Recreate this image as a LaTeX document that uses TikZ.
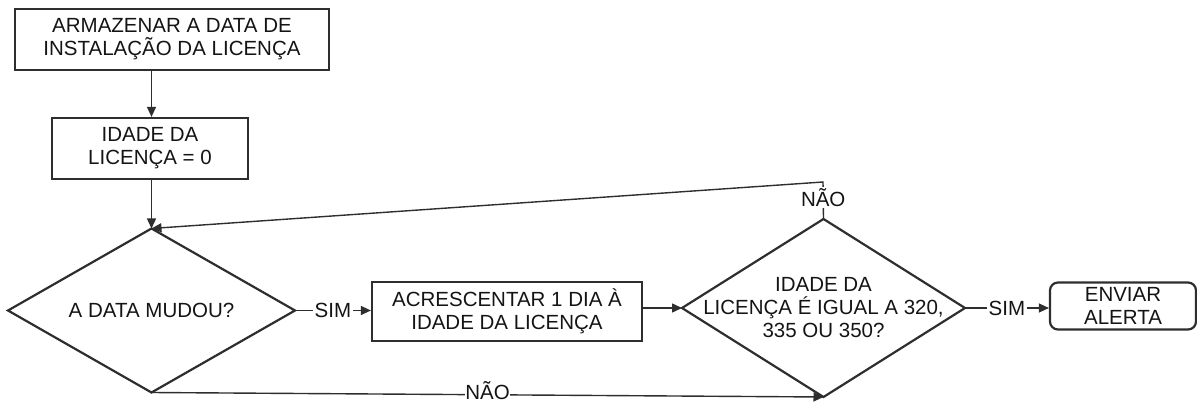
\documentclass[tikz,border=0pt]{standalone}
\usepackage{fontspec}
\setmainfont{Liberation Sans}
\usetikzlibrary{shapes.geometric,arrows.meta}
\definecolor{ln}{HTML}{2E2E2E}
\definecolor{tx}{HTML}{141414}
\tikzset{
  box/.style={draw=ln, line width=2.2pt, align=center, inner sep=0pt, text=tx,
    font=\fontsize{20.5}{23}\selectfont},
  dia/.style={diamond, draw=ln, line width=2.2pt, inner sep=0pt, outer sep=0pt},
  lbl/.style={align=center, text=tx, font=\fontsize{20.5}{23}\selectfont, inner sep=0pt},
  edge/.style={draw=ln, line width=1.4pt, -{Triangle[length=10pt,width=9pt]}},
  elab/.style={fill=white, text=tx, inner sep=1.5pt, font=\fontsize{20.5}{23}\selectfont}
}
\begin{document}
\begin{tikzpicture}[x=1pt,y=-1pt]
\useasboundingbox (0,0) rectangle (1197,403);
\node[box, minimum width=314pt, minimum height=61pt] (b1) at (172,39.5)
  {ARMAZENAR A DATA DE\\INSTALAÇÃO DA LICENÇA};
\node[box, minimum width=196pt, minimum height=61pt] (b2) at (150,148.5)
  {IDADE DA\\LICENÇA = 0};
\node[dia, minimum width=287pt, minimum height=164pt] (d1) at (151.5,310.5) {};
\node[lbl] (t1) at (d1.center) {A DATA MUDOU?};
\node[box, minimum width=270pt, minimum height=59pt] (b3) at (507,311.5)
  {ACRESCENTAR 1 DIA À\\IDADE DA LICENÇA};
\node[dia, minimum width=283pt, minimum height=178pt] (d2) at (823.5,308) {};
\node[lbl] (t2) at (d2.center) {IDADE DA\\LICENÇA É IGUAL A 320,\\335 OU 350?};
\node[box, rounded corners=8pt, minimum width=146pt, minimum height=47pt] (e) at (1123,306)
  {ENVIAR\\ALERTA};
\coordinate (top) at (823,182);

\draw[edge] (b1.south -| d1.north) -- (b2.north -| d1.north);
\draw[edge] (b2.south -| d1.north) -- (d1.north);
\draw[edge] (d1.south) -- node[elab, pos=0.5, anchor=base, yshift=-5pt, inner sep=0.5pt] {NÃO} (d2.south);
\draw[edge] (d1.east) -- node[elab] {SIM} (d1.east -| b3.west);
\draw[edge] (b3.east |- d2.west) -- (d2.west);
\draw[edge] (d2.east) -- node[elab] {SIM} (d2.east -| e.west);
\draw[edge] (d2.north) -- node[elab, pos=0.55, anchor=base, yshift=-7.5pt] {NÃO} (top) -- (d1.north);
\end{tikzpicture}
\end{document}
